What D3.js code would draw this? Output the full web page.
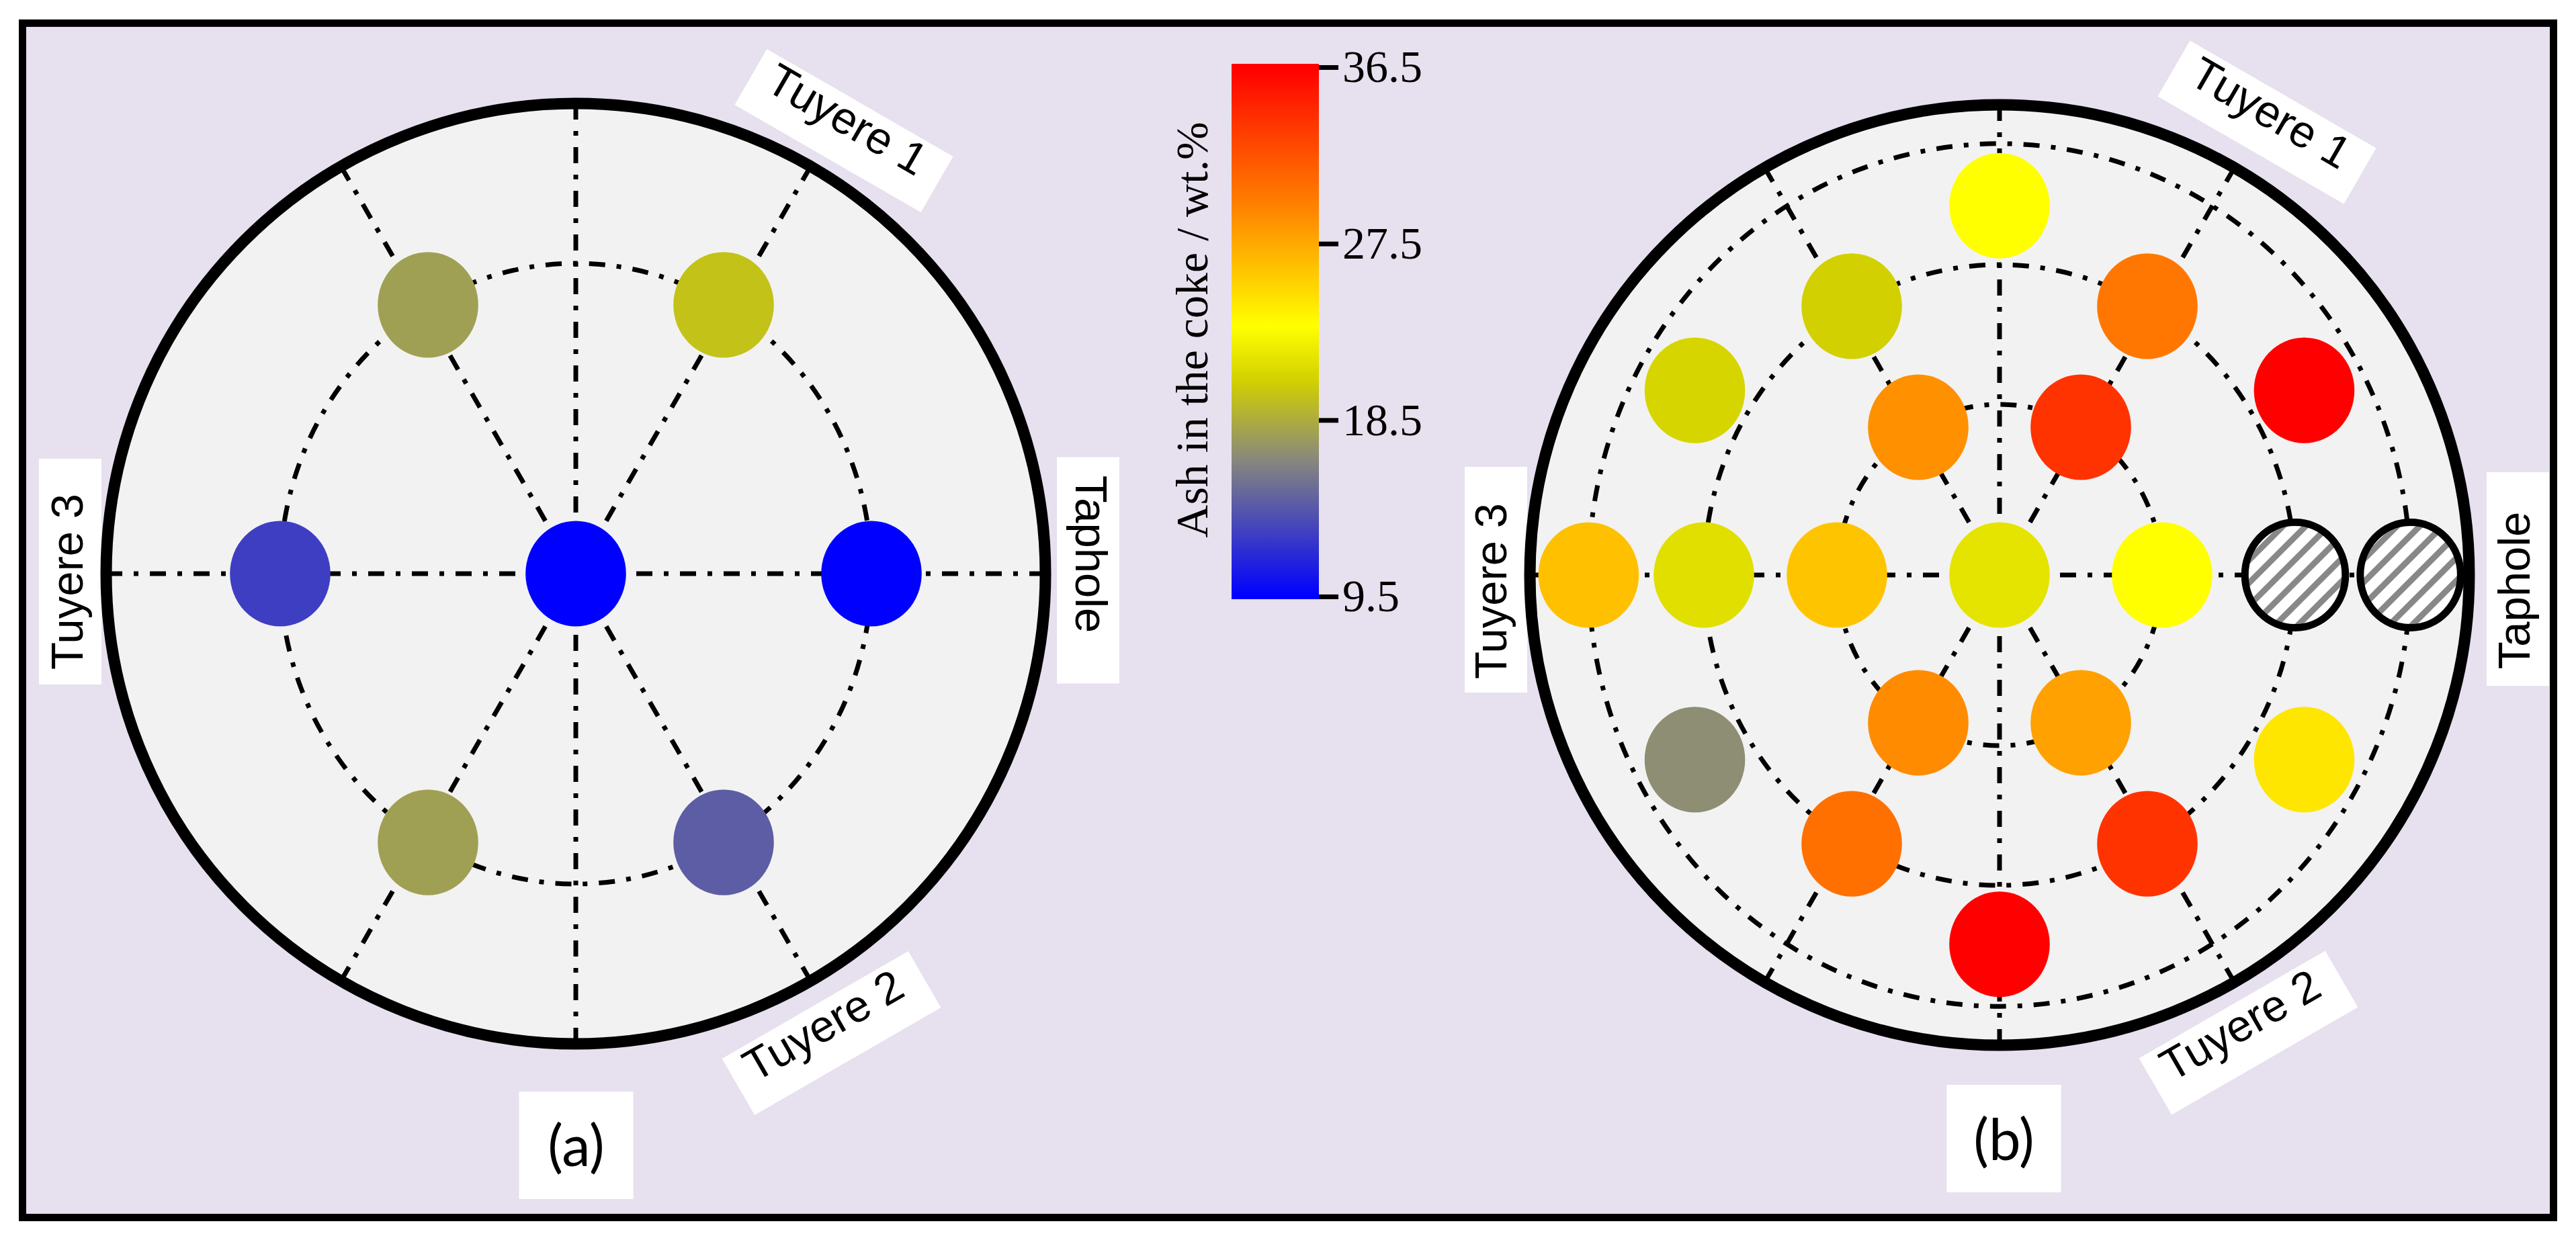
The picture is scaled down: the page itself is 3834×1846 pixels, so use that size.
<!doctype html>
<html>
<head>
<style>
  body { margin: 0; background: #ffffff; }
</style>
<script src="https://d3js.org/d3.v7.min.js"></script>
</head>
<body>
<svg width="3834" height="1846"></svg>
<script>

// colour map of the ash content (value -> colour)
var ashStops  = [9.5, 16.6, 20.5, 23.3, 29.5, 36.5];
var ashColors = ["#0000ff", "#8a8a7a", "#d2d000", "#ffff00", "#ff8000", "#ff0000"];
var ashTicks  = [9.5, 18.5, 27.5, 36.5];

// panel (a): sampling rings and points (radius in ring units, angle in degrees)
var ringsA  = [1];
var radiusA = [0,   1,   1,    1,    1,    1,    1];
var angleA  = [0,   0,   60,   120,  180,  240,  300];
var ashA    = [9.5, 9.5, 19.7, 17.8, 12.7, 17.8, 14.3];

// panel (b); null = no sample (hatched)
var ringsB  = [0.55, 1, 1.39];
var radiusB = [0,    0.55, 0.55, 0.55, 0.55, 0.55, 0.55,  1,  1,    1,    1,    1,    1,     1.19, 1.19, 1.19, 1.19, 1.19, 1.19, 1.39, 1.39];
var angleB  = [0,    0,    60,   120,  180,  240,  300,   0,  60,   120,  180,  240,  300,   30,   90,   150,  210,  270,  330,  180,  0];
var ashB    = [21.7, 23.3, 33.7, 28.7, 26.2, 28.9, 27.9,  null, 30.0, 20.5, 21.4, 30.4, 33.7, 36.5, 23.3, 20.8, 16.8, 36.5, 24.5, 26.4, null];

var spokes = [0, 60, 90, 120, 180, 240, 270, 300];

var svg = d3.select("svg");
var lavender = "#e7e0ee";
var dashDot = "24,17,7,17";

var color = d3.scaleLinear().domain(ashStops).range(ashColors);

// frame
svg.append("rect")
   .attr("x", 33.5).attr("y", 34.5)
   .attr("width", 3767).attr("height", 1778)
   .attr("fill", lavender)
   .attr("stroke", "#000").attr("stroke-width", 11);

// hatch pattern for missing samples
var defs = svg.append("defs");
var pat = defs.append("pattern")
   .attr("id", "hatch")
   .attr("patternUnits", "userSpaceOnUse")
   .attr("width", 24).attr("height", 24)
   .attr("patternTransform", "rotate(45)");
pat.append("rect").attr("width", 24).attr("height", 24).attr("fill", "#fff");
pat.append("rect").attr("width", 9).attr("height", 24).attr("fill", "#888");

function label(g, box) {
    var t = g.append("g")
        .attr("transform", "translate(" + box.x + "," + box.y + ") rotate(" + box.rot + ")");
    t.append("rect")
     .attr("x", -box.w / 2).attr("y", -box.h / 2)
     .attr("width", box.w).attr("height", box.h)
     .attr("fill", "#fff");
    t.append("text")
     .attr("x", box.tx).attr("y", box.ty)
     .attr("text-anchor", "middle")
     .attr("font-family", "'Liberation Sans', Arial, sans-serif")
     .attr("font-size", box.fs || 67)
     .text(box.text);
}

function drawPanel(cx, cy, rings, radius, angle, ash, labels) {
    var x = d3.scaleLinear().domain([-1, 1]).range([cx - 440, cx + 440]);
    var y = d3.scaleLinear().domain([-1, 1]).range([cy + 462, cy - 462]);
    var rimX = 699 / 440, rimY = 700 / 462;
    var rad = function(a) { return a * Math.PI / 180; };

    var g = svg.append("g");
    labels.forEach(function(b) { label(g, b); });

    g.append("ellipse")
     .attr("cx", x(0)).attr("cy", y(0))
     .attr("rx", x(rimX) - x(0)).attr("ry", y(0) - y(rimY))
     .attr("fill", "#f2f2f2");

    g.selectAll(".ring").data(rings).enter().append("ellipse")
     .attr("class", "ring")
     .attr("cx", x(0)).attr("cy", y(0))
     .attr("rx", function(d) { return x(d) - x(0); })
     .attr("ry", function(d) { return y(0) - y(d); })
     .attr("fill", "none").attr("stroke", "#000")
     .attr("stroke-width", 7).attr("stroke-dasharray", dashDot);

    g.selectAll(".spoke").data(spokes).enter().append("line")
     .attr("class", "spoke")
     .attr("x1", function(d) { return x(rimX * Math.cos(rad(d))); })
     .attr("y1", function(d) { return y(rimY * Math.sin(rad(d))); })
     .attr("x2", x(0)).attr("y2", y(0))
     .attr("stroke", "#000").attr("stroke-width", 7)
     .attr("stroke-dasharray", dashDot);

    var pts = ash.map(function(v, i) {
        return { r: radius[i], a: angle[i], v: v };
    });
    var dr = 0.17;

    g.selectAll(".dot").data(pts).enter().append("ellipse")
     .attr("class", "dot")
     .attr("cx", function(d) { return x(d.r * Math.cos(rad(d.a))); })
     .attr("cy", function(d) { return y(d.r * Math.sin(rad(d.a))); })
     .attr("rx", x(dr) - x(0))
     .attr("ry", y(0) - y(dr))
     .attr("fill", function(d) { return d.v === null ? "url(#hatch)" : color(d.v); })
     .attr("stroke", function(d) { return d.v === null ? "#000" : "none"; })
     .attr("stroke-width", 11);

    g.append("ellipse")
     .attr("cx", x(0)).attr("cy", y(0))
     .attr("rx", x(rimX) - x(0)).attr("ry", y(0) - y(rimY))
     .attr("fill", "none").attr("stroke", "#000").attr("stroke-width", 17);
}

drawPanel(857, 854, ringsA, radiusA, angleA, ashA, [
    { text: "Tuyere 1", x: 1256,   y: 194.5, w: 320, h: 96, rot: 30,  tx: -4,  ty: 6 },
    { text: "Tuyere 2", x: 1237.5, y: 1538,  w: 320, h: 97, rot: -30, tx: -5,  ty: 7 },
    { text: "Tuyere 3", x: 104.5,  y: 851,   w: 336, h: 93, rot: -90, tx: -15, ty: 18 },
    { text: "Taphole",  x: 1619.5, y: 849,   w: 337, h: 93, rot: 90,  tx: -24, ty: 18.5 }
]);

drawPanel(2976, 856, ringsB, radiusB, angleB, ashB, [
    { text: "Tuyere 1", x: 3374,   y: 182,    w: 320, h: 96, rot: 30,  tx: -2,  ty: 8 },
    { text: "Tuyere 2", x: 3346.5, y: 1537.5, w: 320, h: 97, rot: -30, tx: -5,  ty: 7 },
    { text: "Tuyere 3", x: 2226.5, y: 863,    w: 336, h: 93, rot: -90, tx: -17, ty: 15.5 },
    { text: "Taphole",  x: 3747.5, y: 862,    w: 318, h: 93, rot: -90, tx: -17, ty: 17 }
]);

// panel captions
[{ t: "(a)", x: 857.5, y: 1705, base: 1736 }, { t: "(b)", x: 2982.5, y: 1695, base: 1727 }].forEach(function(c) {
    svg.append("rect")
       .attr("x", c.x - 85).attr("y", c.y - 80)
       .attr("width", 170).attr("height", 160)
       .attr("fill", "#fff");
    svg.append("text")
       .attr("x", c.x).attr("y", c.base)
       .attr("text-anchor", "middle")
       .attr("font-family", "Lato, 'Open Sans', sans-serif")
       .attr("font-size", 85)
       .text(c.t);
});

// colour bar
var cb = d3.scaleLinear().domain([9.5, 36.5]).range([888, 100]);
var grad = defs.append("linearGradient")
   .attr("id", "ashgrad")
   .attr("gradientUnits", "userSpaceOnUse")
   .attr("x1", 0).attr("x2", 0)
   .attr("y1", cb(9.5)).attr("y2", cb(36.5));
grad.selectAll("stop").data(ashStops).enter().append("stop")
   .attr("offset", function(d) { return (d - 9.5) / 27; })
   .attr("stop-color", function(d, i) { return ashColors[i]; });

svg.append("rect")
   .attr("x", 1833).attr("y", 95)
   .attr("width", 130).attr("height", 797)
   .attr("fill", "url(#ashgrad)");

var axis = svg.append("g")
   .attr("transform", "translate(1963,0)")
   .call(d3.axisRight(cb).tickValues(ashTicks).tickFormat(d3.format(".1f")).tickSize(29).tickPadding(6));
axis.select(".domain").remove();
axis.selectAll(".tick line").attr("stroke-width", 7);
axis.selectAll(".tick text")
   .attr("font-family", "'Liberation Serif', 'Times New Roman', serif")
   .attr("font-size", 68);

svg.append("text")
   .attr("transform", "translate(1797,491) rotate(-90)")
   .attr("text-anchor", "middle")
   .attr("font-family", "'Liberation Serif', 'Times New Roman', serif")
   .attr("font-size", 68)
   .text("Ash in the coke / wt.%");

</script>
</body>
</html>
